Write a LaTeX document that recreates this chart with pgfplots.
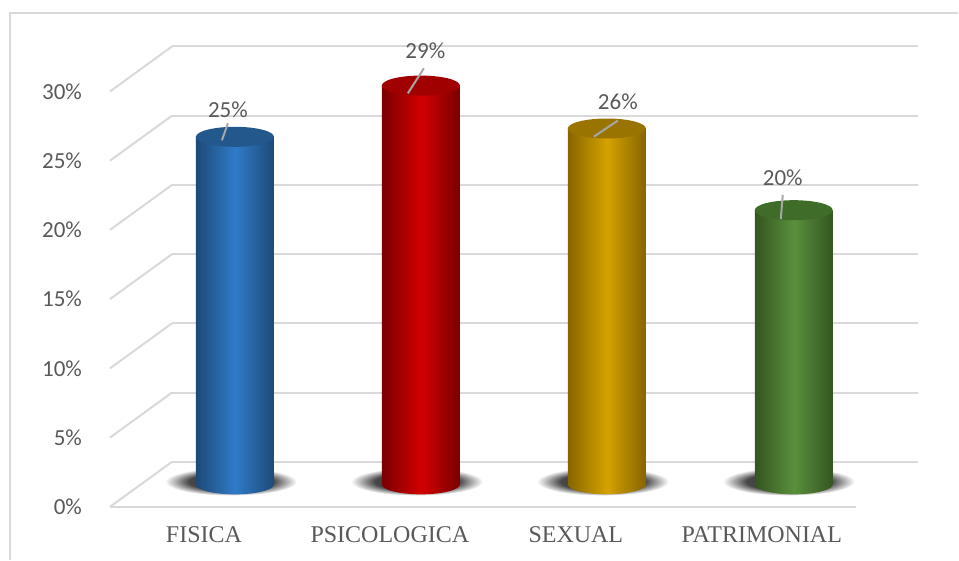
\documentclass[border=0pt]{standalone}
\usepackage{fontspec}
\setmainfont{Carlito}
\newfontfamily\serif{Liberation Serif}
\usepackage{pgfplots}
\pgfplotsset{compat=1.18}

\definecolor{gridc}{HTML}{D9D9D9}
\definecolor{lab}{HTML}{595959}
\definecolor{leader}{HTML}{A6A6A6}
\definecolor{bluee}{HTML}{1D4A77}
\definecolor{bluem}{HTML}{2F7BC8}
\definecolor{bluet}{HTML}{22588C}
\definecolor{rede}{HTML}{7A0000}
\definecolor{redm}{HTML}{D20000}
\definecolor{redt}{HTML}{A00000}
\definecolor{golde}{HTML}{876500}
\definecolor{goldm}{HTML}{D4A200}
\definecolor{goldt}{HTML}{9A7400}
\definecolor{greene}{HTML}{345521}
\definecolor{greenm}{HTML}{5A903C}
\definecolor{greent}{HTML}{3F6C28}

\newcommand\lbl{\fontsize{11.5}{13}\selectfont}
\newcommand\cat{\serif\fontsize{12}{14}\selectfont}

\pgfdeclareradialshading{shadowfade}{\pgfpoint{0bp}{0bp}}{color(0bp)=(black!82); color(16bp)=(black!72); color(25bp)=(white); color(50bp)=(white)}

\pgfdeclareplotmark{shadow}{\shade[draw=none, shading=shadowfade] (0pt,0pt) ellipse[x radius=33pt, y radius=7pt];}
\pgfdeclareplotmark{ctop}{\pgfpathellipse{\pgfpointorigin}{\pgfqpoint{19.5pt}{0pt}}{\pgfqpoint{0pt}{5pt}}\pgfusepathqfill}
\newcommand\defbot[3]{\pgfdeclareplotmark{bot#1}{\shade[draw=none, left color=#2, right color=#2, middle color=#3] (-19.5pt,0pt) arc[start angle=180, end angle=360, x radius=19.5pt, y radius=5pt] -- cycle;}}
\defbot{blue}{bluee}{bluem}
\defbot{red}{rede}{redm}
\defbot{gold}{golde}{goldm}
\defbot{green}{greene}{greenm}

\begin{document}
\begin{tikzpicture}
\begin{axis}[
  scale only axis, width=479.5pt, height=280pt,
  xmin=0, xmax=959, ymin=-5.451, ymax=34.982,
  hide axis, clip=false, set layers,
]
% keep the full picture box
\path (axis cs:0,-5.451) rectangle (axis cs:959,34.982);
% outer border
\draw[gridc, line width=0.8pt] (axis cs:10,-5.451) -- (axis cs:10,34.043) -- (axis cs:958.5,34.043);
% back wall gridlines
\addplot[gridc, line width=1pt, forget plot] coordinates {(172,1.625) (918,1.625)};
\addplot[gridc, line width=1pt, forget plot] coordinates {(172,6.625) (918,6.625)};
\addplot[gridc, line width=1pt, forget plot] coordinates {(172,11.625) (918,11.625)};
\addplot[gridc, line width=1pt, forget plot] coordinates {(172,16.625) (918,16.625)};
\addplot[gridc, line width=1pt, forget plot] coordinates {(172,21.625) (918,21.625)};
\addplot[gridc, line width=1pt, forget plot] coordinates {(172,26.625) (918,26.625)};
\addplot[gridc, line width=1pt, forget plot] coordinates {(172,31.625) (918,31.625)};
% side diagonals
\addplot[gridc, line width=1pt, forget plot] coordinates {(110,-1.625) (172,1.625)};
\addplot[gridc, line width=1pt, forget plot] coordinates {(110,3.375) (172,6.625)};
\addplot[gridc, line width=1pt, forget plot] coordinates {(110,8.375) (172,11.625)};
\addplot[gridc, line width=1pt, forget plot] coordinates {(110,13.375) (172,16.625)};
\addplot[gridc, line width=1pt, forget plot] coordinates {(110,18.375) (172,21.625)};
\addplot[gridc, line width=1pt, forget plot] coordinates {(110,23.375) (172,26.625)};
\addplot[gridc, line width=1pt, forget plot] coordinates {(110,28.375) (172,31.625)};
% front floor edge
\addplot[gridc, line width=1pt, forget plot] coordinates {(110,-1.625) (856,-1.625)};
% tick labels
\node[anchor=east, font=\lbl, text=lab] at (axis cs:89,-1.625) {0\%};
\node[anchor=east, font=\lbl, text=lab] at (axis cs:89,3.375) {5\%};
\node[anchor=east, font=\lbl, text=lab] at (axis cs:89,8.375) {10\%};
\node[anchor=east, font=\lbl, text=lab] at (axis cs:89,13.375) {15\%};
\node[anchor=east, font=\lbl, text=lab] at (axis cs:89,18.375) {20\%};
\node[anchor=east, font=\lbl, text=lab] at (axis cs:89,23.375) {25\%};
\node[anchor=east, font=\lbl, text=lab] at (axis cs:89,28.375) {30\%};
% shadows (background layer)
\addplot[only marks, mark=shadow, on layer=axis background, mark layer=axis background, forget plot] coordinates {(231,0.2) (417,0.2) (603,0.2) (789,0.2)};
% cylinders
\addplot[ybar, bar width=78, draw=none, left color=bluee, right color=bluee, middle color=bluem, forget plot] coordinates {(235,25.1)};
\addplot[ybar, bar width=78, draw=none, left color=rede, right color=rede, middle color=redm, forget plot] coordinates {(421,28.8)};
\addplot[ybar, bar width=78, draw=none, left color=golde, right color=golde, middle color=goldm, forget plot] coordinates {(607,25.7)};
\addplot[ybar, bar width=78, draw=none, left color=greene, right color=greene, middle color=greenm, forget plot] coordinates {(794,19.8)};
\addplot[only marks, mark=botblue, forget plot] coordinates {(235,0)};
\addplot[only marks, mark=botred, forget plot] coordinates {(421,0)};
\addplot[only marks, mark=botgold, forget plot] coordinates {(607,0)};
\addplot[only marks, mark=botgreen, forget plot] coordinates {(794,0)};
\addplot[only marks, mark=ctop, mark options={fill=bluet, draw=none}, forget plot] coordinates {(235,25.1)};
\addplot[only marks, mark=ctop, mark options={fill=redt, draw=none}, forget plot] coordinates {(421,28.8)};
\addplot[only marks, mark=ctop, mark options={fill=goldt, draw=none}, forget plot] coordinates {(607,25.7)};
\addplot[only marks, mark=ctop, mark options={fill=greent, draw=none}, forget plot] coordinates {(794,19.8)};
% leader lines
\addplot[leader, line width=1pt, on layer=axis foreground, forget plot] coordinates {(228,26.08) (222,24.85)};
\addplot[leader, line width=1pt, on layer=axis foreground, forget plot] coordinates {(424,30.05) (408,28.24)};
\addplot[leader, line width=1pt, on layer=axis foreground, forget plot] coordinates {(618,26.27) (594,25.11)};
\addplot[leader, line width=1pt, on layer=axis foreground, forget plot] coordinates {(783,20.90) (781,19.17)};
% data labels
\node[font=\lbl, text=lab] at (axis cs:228,27.04) {25\%};
\node[font=\lbl, text=lab] at (axis cs:425.5,31.30) {29\%};
\node[font=\lbl, text=lab] at (axis cs:618,27.62) {26\%};
\node[font=\lbl, text=lab] at (axis cs:783,22.13) {20\%};
% category labels
\node[font=\cat, text=lab] at (axis cs:204,-3.65) {FISICA};
\node[font=\cat, text=lab] at (axis cs:390,-3.65) {PSICOLOGICA};
\node[font=\cat, text=lab] at (axis cs:576,-3.65) {SEXUAL};
\node[font=\cat, text=lab] at (axis cs:762,-3.65) {PATRIMONIAL};
\end{axis}
\end{tikzpicture}
\end{document}
